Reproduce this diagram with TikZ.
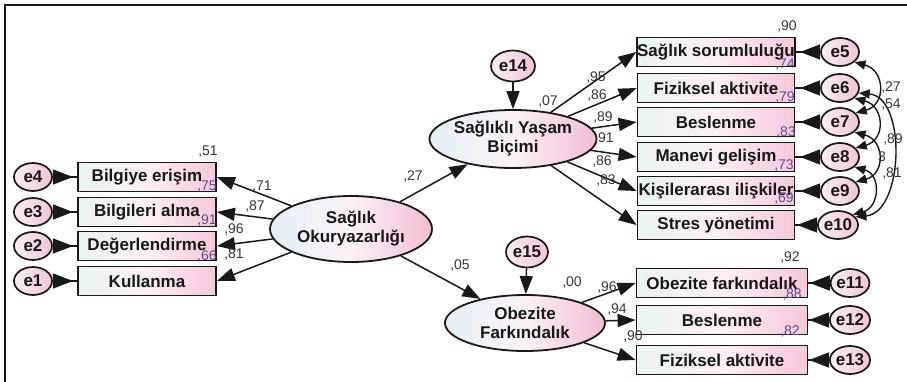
\documentclass[tikz,border=0pt]{standalone}
\usepackage{fontspec}
\setmainfont{Liberation Sans}
\usetikzlibrary{arrows.meta,shapes.geometric}
\definecolor{boxL}{RGB}{232,245,238}
\definecolor{boxR}{RGB}{245,200,220}
\definecolor{ellL}{RGB}{226,240,246}
\definecolor{ellR}{RGB}{240,188,212}
\definecolor{errL}{RGB}{250,238,243}
\definecolor{errR}{RGB}{240,196,216}
\definecolor{ink}{RGB}{25,25,25}
\definecolor{numc}{RGB}{55,55,55}
\definecolor{purp}{RGB}{95,80,140}
\tikzset{
  txt/.style={font=\fontsize{17}{19}\selectfont\bfseries, text=ink},
  obs/.style={draw=ink, line width=1.8pt, rectangle, minimum height=29pt, inner sep=0pt,
    left color=boxL, right color=boxR, middle color=white!70!boxR, txt},
  obsL/.style={obs, minimum width=138pt},
  obsR/.style={obs, minimum width=157pt},
  obsB/.style={obs, minimum width=171pt},
  lat/.style={draw=ink, line width=1.8pt, ellipse, inner sep=0pt, align=center,
    left color=ellL, right color=ellR, middle color=white!80!ellR, txt},
  err/.style={draw=ink, line width=1.7pt, ellipse, inner sep=0pt, minimum width=38pt, minimum height=28pt,
    left color=errL, right color=errR, font=\fontsize{17}{17}\selectfont\bfseries, text=ink},
  arr/.style={draw=ink, line width=1.5pt, -{Triangle[length=18pt,width=13pt]}},
  errarr/.style={draw=ink, line width=1.7pt, {Triangle[reversed,length=20pt,width=15pt]}-},
  cov/.style={draw=ink, line width=1.4pt, {Triangle[length=11pt,width=9pt]}-{Triangle[length=11pt,width=9pt]}},
  num/.style={font=\fontsize{14}{14}\selectfont, text=numc, inner sep=0pt},
  numP/.style={num, text=purp},
}
\begin{document}
\begin{tikzpicture}[x=1pt,y=1pt]
\useasboundingbox (0,0) rectangle (907,-382);
\coordinate (fa) at (5,-382);
\coordinate (fb) at (5,-5);
\coordinate (fc) at (907,-5);
\draw[line width=1.2pt, ink] (fa) -- (fb) -- (fc);

% left indicators
\node[obsL] (b1) at (147,-177) {Bilgiye erişim};
\node[obsL] (b2) at (147,-212) {Bilgileri alma};
\node[obsL] (b3) at (147,-246) {Değerlendirme};
\node[obsL] (b4) at (147,-281) {Kullanma};
\node[err] (e4) at (33,-177) {e4};
\node[err] (e3) at (33,-212) {e3};
\node[err] (e2) at (33,-246) {e2};
\node[err] (e1) at (33,-281) {e1};

% latents
\node[lat, minimum width=162pt, minimum height=66pt] (so) at (351,-229) {Sağlık\\Okuryazarlığı};
\node[lat, minimum width=160pt, minimum height=58pt] (syb) at (513,-139) {Sağlıklı Yaşam\\Biçimi};
\node[lat, minimum width=160pt, minimum height=56pt] (of) at (525,-323) {Obezite\\Farkındalık};
\node[err, minimum width=44pt, minimum height=31pt] (e14) at (513,-66) {e14};
\node[err, minimum width=42pt, minimum height=31pt] (e15) at (527,-252) {e15};

% right top indicators
\node[obsR] (r1) at (716,-52) {Sağlık sorumluluğu};
\node[obsR] (r2) at (716,-88) {Fiziksel aktivite};
\node[obsR] (r3) at (716,-122) {Beslenme};
\node[obsR] (r4) at (716,-157) {Manevi gelişim};
\node[obsR] (r5) at (716,-191) {Kişilerarası ilişkiler};
\node[obsR] (r6) at (716,-225) {Stres yönetimi};
\node[err] (e5) at (840,-52) {e5};
\node[err] (e6) at (840,-88) {e6};
\node[err] (e7) at (840,-122) {e7};
\node[err] (e8) at (840,-157) {e8};
\node[err] (e9) at (840,-191) {e9};
\node[err] (e10) at (838,-225) {e10};

% right bottom indicators
\node[obsB] (q1) at (722,-283) {Obezite farkındalık};
\node[obsB] (q2) at (722,-320) {Beslenme};
\node[obsB] (q3) at (722,-360) {Fiziksel aktivite};
\node[err] (e11) at (850,-283) {e11};
\node[err] (e12) at (850,-320) {e12};
\node[err] (e13) at (850,-360) {e13};

% paths
\foreach \b in {b1,b2,b3,b4} \draw[arr] (so) -- (\b.east);
\draw[errarr] (e4) -- (b1);
\draw[errarr] (e3) -- (b2);
\draw[errarr] (e2) -- (b3);
\draw[errarr] (e1) -- (b4);
\draw[arr] (so) -- (syb);
\draw[arr] (so) -- (of);
\draw[arr] (e14) -- (syb);
\draw[arr] (e15) -- (of);
\foreach \r in {r1,r2,r3,r4,r5,r6} \draw[arr] (syb) -- (\r.west);
\foreach \q in {q1,q2,q3} \draw[arr] (of) -- (\q.west);
\draw[errarr] (e5) -- (r1);
\draw[errarr] (e6) -- (r2);
\draw[errarr] (e7) -- (r3);
\draw[errarr] (e8) -- (r4);
\draw[errarr] (e9) -- (r5);
\draw[errarr] (e10) -- (r6);
\draw[errarr] (e11) -- (q1);
\draw[errarr] (e12) -- (q2);
\draw[errarr] (e13) -- (q3);

% covariances
\draw[cov] (e5.-35) to[out=-15,in=15,looseness=1.6] (e7.30);
\draw[cov] (e6.-35) to[out=-15,in=15,looseness=1.6] (e8.30);
\draw[cov] (e7.-35) to[out=-15,in=15,looseness=1.6] (e9.30);
\draw[cov] (e8.-35) to[out=-15,in=15,looseness=1.5] (e10.35);
\draw[cov] (e6.-15) to[out=-5,in=5,looseness=1.0] (e10.25);

% numbers
\node[num] (n1) at (208,-152) {,51};
\node[numP] (n2) at (207,-187) {,75};
\node[numP] (n3) at (207,-221) {,91};
\node[numP] (n4) at (207,-257) {,66};
\node[num] (n5) at (262,-187) {,71};
\node[num] (n6) at (255,-207) {,87};
\node[num] (n7) at (234,-230) {,96};
\node[num] (n8) at (234,-255) {,81};
\node[num] (n9) at (413,-177) {,27};
\node[num] (n10) at (460,-266) {,05};
\node[num] (n11) at (548,-102) {,07};
\node[num] (n12) at (572,-283) {,00};
\node[num] (n13) at (596,-78) {,95};
\node[num] (n14) at (597,-96) {,86};
\node[num] (n15) at (603,-118) {,89};
\node[num] (n16) at (604,-139) {,91};
\node[num] (n17) at (602,-162) {,86};
\node[num] (n18) at (606,-181) {,83};
\node[num] (n19) at (787,-27) {,90};
\node[numP] (n20) at (785,-65) {,74};
\node[numP] (n21) at (785,-98) {,79};
\node[numP] (n22) at (786,-133) {,83};
\node[numP] (n23) at (784,-166) {,73};
\node[numP] (n24) at (784,-199) {,69};
\node[num] (n25) at (790,-258) {,92};
\node[numP] (n26) at (792,-295) {,88};
\node[numP] (n27) at (790,-332) {,82};
\node[num] (n28) at (607,-288) {,96};
\node[num] (n29) at (617,-310) {,94};
\node[num] (n30) at (633,-337) {,90};
\node[num] (n31) at (891,-88) {,27};
\node[num] (n32) at (891,-105) {,54};
\node[num] (n33) at (893,-140) {,89};
\node[num] (n34) at (882,-157) {3};
\node[num] (n35) at (892,-174) {,81};
\end{tikzpicture}
\end{document}
